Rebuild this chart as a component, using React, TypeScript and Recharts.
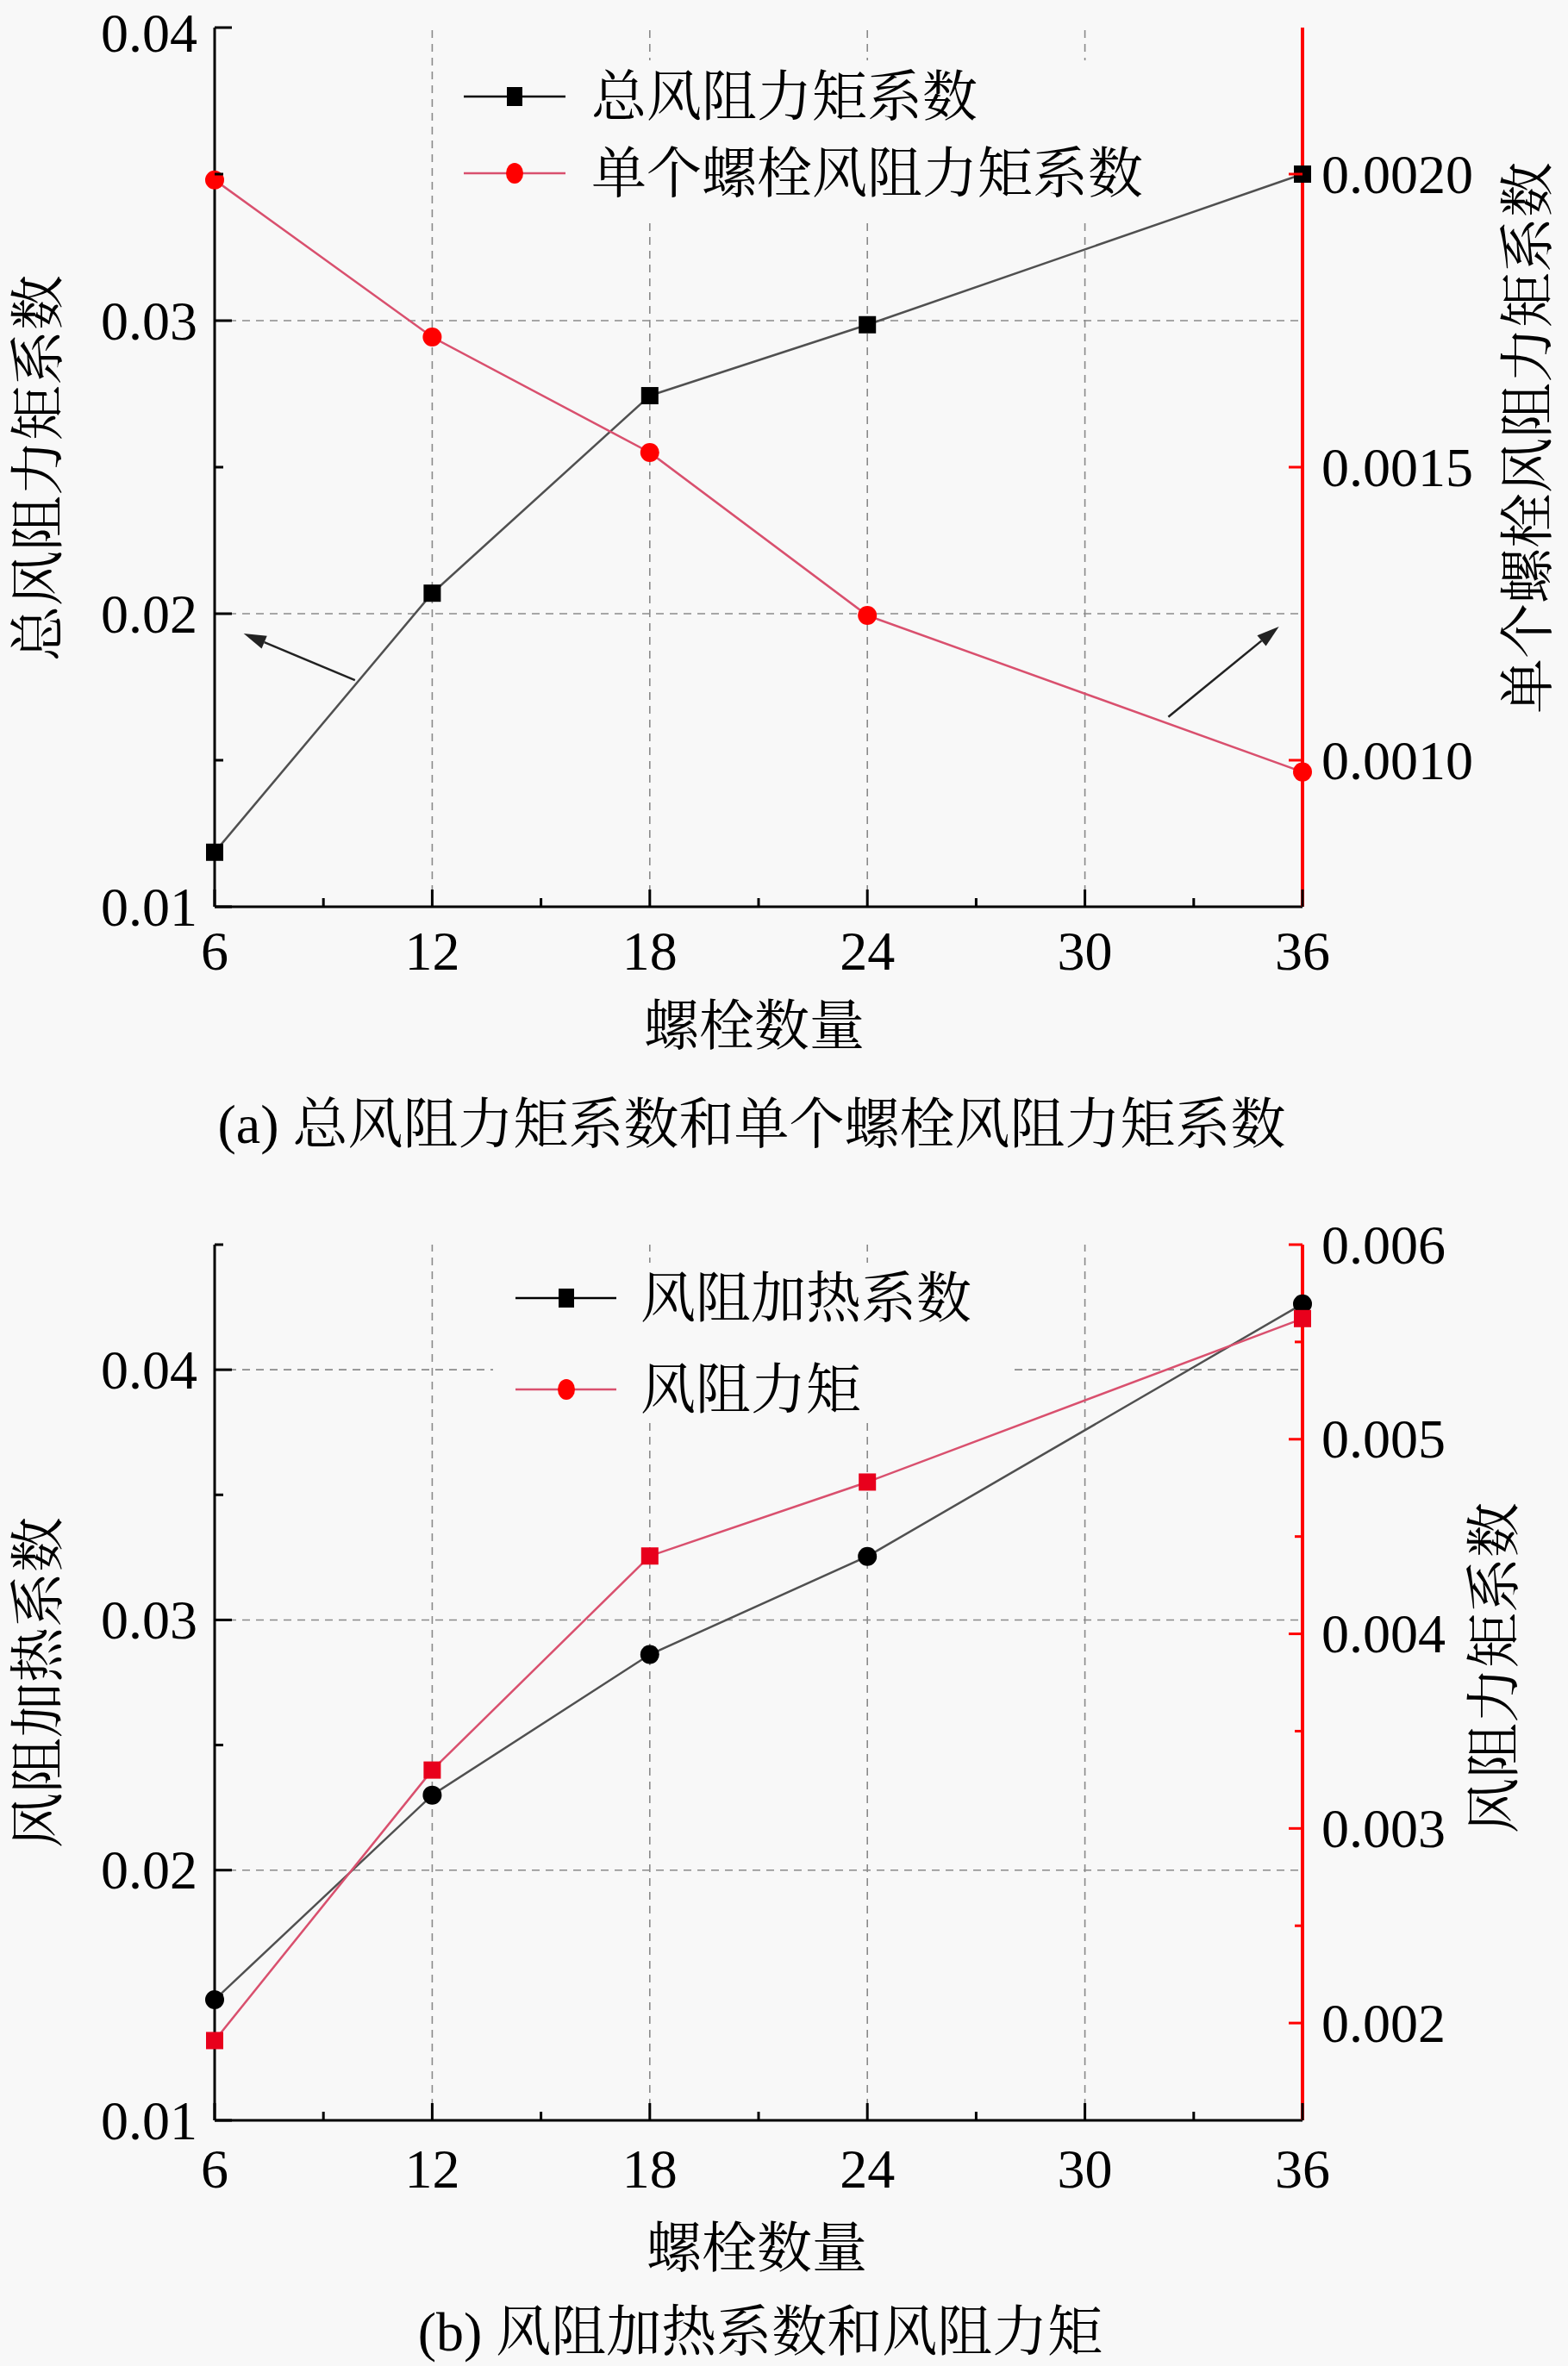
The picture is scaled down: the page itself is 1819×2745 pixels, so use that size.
import { LineChart, Line, XAxis, YAxis, ReferenceLine } from 'recharts'

// bolt counts on the x axis
const boltCounts = [6, 12, 18, 24, 36]

// (a) total / single bolt wind resistance moment coefficient
const totalMoment = [0.01186, 0.0207, 0.02744, 0.02986, 0.035]
const singleBoltMoment = [0.00199, 0.001722, 0.001525, 0.001247, 0.00098]

// (b) wind heating coefficient / wind resistance moment
const heatingCoef = [0.01482, 0.023, 0.02862, 0.03254, 0.04263]
const dragMoment = [0.00191, 0.0033, 0.0044, 0.00478, 0.00562]

// ticks
const xTicks = [6, 9, 12, 15, 18, 21, 24, 27, 30, 33, 36]
const xLabels = ['6', '', '12', '', '18', '', '24', '', '30', '', '36']
const xGrid = [12, 18, 24, 30]

const aLeftTicks = [0.01, 0.015, 0.02, 0.025, 0.03, 0.035, 0.04]
const aLeftLabels = ['0.01', '', '0.02', '', '0.03', '', '0.04']
const aRightTicks = [0.001, 0.0015, 0.002]
const aRightLabels = ['0.0010', '0.0015', '0.0020']
const aGrid = [0.02, 0.03]

const bLeftTicks = [0.01, 0.015, 0.02, 0.025, 0.03, 0.035, 0.04, 0.045]
const bLeftLabels = ['0.01', '', '0.02', '', '0.03', '', '0.04', '']
const bRightTicks = [0.002, 0.0025, 0.003, 0.0035, 0.004, 0.0045, 0.005, 0.0055, 0.006]
const bRightLabels = ['0.002', '', '0.003', '', '0.004', '', '0.005', '', '0.006']
const bGrid = [0.02, 0.03, 0.04]

const aData = boltCounts.map((n, i) => ({ n, total: totalMoment[i], single: singleBoltMoment[i] }))
const bData = boltCounts.map((n, i) => ({ n, heat: heatingCoef[i], moment: dragMoment[i] }))

const FONT = "'Liberation Serif', 'Times New Roman', 'Noto Serif CJK SC', 'Noto Sans CJK SC', serif"
const FS = 64
const BG = '#f8f8f8'
const RED = '#ff0000'
const LINE_RED = '#d9506e'
const LINE_BLACK = '#505050'
const W = 1819

const XTickBottom = (labels, offset) => (props) => {
  const { x, y, index } = props
  const label = labels[index]
  const len = label ? 20 : 10
  return (
    <g>
      <line x1={x} y1={y} x2={x} y2={y - len} stroke="#000" strokeWidth={3} />
      {label && (
        <text x={x} y={y + offset} textAnchor="middle" dominantBaseline="central" fontFamily={FONT} fontSize={FS} fill="#000">
          {label}
        </text>
      )}
    </g>
  )
}

const XTickTop = (labels) => (props) => {
  const { x, y, index } = props
  const len = labels[index] ? 20 : 10
  return <line x1={x} y1={y} x2={x} y2={y + len} stroke="#000" strokeWidth={3} />
}

const YTickLeft = (labels, topValue) => (props) => {
  const { x, y, index, payload } = props
  const label = labels[index]
  const len = label ? 20 : 10
  // keep the top label inside the page
  const ty = payload && payload.value === topValue ? y + 6 : y
  return (
    <g>
      <line x1={x} y1={y} x2={x + len} y2={y} stroke="#000" strokeWidth={3} />
      {label && (
        <text x={x - 20} y={ty} textAnchor="end" dominantBaseline="central" fontFamily={FONT} fontSize={FS} fill="#000">
          {label}
        </text>
      )}
    </g>
  )
}

const YTickRight = (labels) => (props) => {
  const { x, y, index } = props
  const label = labels[index]
  const len = label ? 16 : 9
  return (
    <g>
      <line x1={x} y1={y} x2={x - len} y2={y} stroke={RED} strokeWidth={3} />
      {label && (
        <text x={x + 22} y={y} textAnchor="start" dominantBaseline="central" fontFamily={FONT} fontSize={FS} fill="#000">
          {label}
        </text>
      )}
    </g>
  )
}

const squareDot = (fill, size) => (props) => {
  const { cx, cy, index } = props
  return <rect key={`s${index}`} x={cx - size / 2} y={cy - size / 2} width={size} height={size} fill={fill} />
}

const circleDot = (fill, r) => (props) => {
  const { cx, cy, index } = props
  return <circle key={`c${index}`} cx={cx} cy={cy} r={r} fill={fill} />
}

const arrowShape = (props) => {
  const { x1, y1, x2, y2 } = props
  const ang = Math.atan2(y2 - y1, x2 - x1)
  const L = 26
  const Wd = 8
  const bx = x2 - L * Math.cos(ang)
  const by = y2 - L * Math.sin(ang)
  const px = -Math.sin(ang) * Wd
  const py = Math.cos(ang) * Wd
  return (
    <g>
      <line x1={x1} y1={y1} x2={bx} y2={by} stroke="#222" strokeWidth={2.5} />
      <polygon points={`${x2},${y2} ${bx + px},${by + py} ${bx - px},${by - py}`} fill="#222" />
    </g>
  )
}

const gridStyle = { stroke: '#8a8a8a', strokeWidth: 1.6, strokeDasharray: '9 7' }

function LegendBox({ box, items, lineX, markX, textX }) {
  return (
    <g>
      <rect x={box[0]} y={box[1]} width={box[2]} height={box[3]} fill={BG} />
      {items.map((it) => (
        <g key={it.name}>
          <line x1={lineX[0]} y1={it.y} x2={lineX[1]} y2={it.y} stroke={it.line} strokeWidth={2.5} />
          {it.marker === 'square' ? (
            <rect x={markX - 9} y={it.y - 11} width={18} height={22} fill={it.fill} />
          ) : (
            <ellipse cx={markX} cy={it.y} rx={10} ry={12} fill={it.fill} />
          )}
          <text x={textX} y={it.y} dominantBaseline="central" fontFamily={FONT} fontSize={FS} fill="#000">
            {it.name}
          </text>
        </g>
      ))}
    </g>
  )
}

function VTitle({ x, y, text }) {
  return (
    <text x={x} y={y} transform={`rotate(-90 ${x} ${y})`} textAnchor="middle" dominantBaseline="central" fontFamily={FONT} fontSize={FS} fill="#000">
      {text}
    </text>
  )
}

function ChartA() {
  const H = 1380
  return (
    <div style={{ position: 'relative', width: W, height: H }}>
      <LineChart width={W} height={H} data={aData} margin={{ top: 32, right: 0, left: 0, bottom: 0 }}>
        {xGrid.map((v) => (
          <ReferenceLine key={`vx${v}`} x={v} yAxisId="l" {...gridStyle} />
        ))}
        {aGrid.map((v) => (
          <ReferenceLine key={`hy${v}`} y={v} yAxisId="l" {...gridStyle} />
        ))}
        <XAxis dataKey="n" type="number" domain={[6, 36]} ticks={xTicks} interval={0} height={328} tickSize={0} tickMargin={0} tickLine={false} axisLine={{ stroke: '#000', strokeWidth: 3 }} tick={XTickBottom(xLabels, 51)} />
        <XAxis xAxisId="top" orientation="top" dataKey="n" type="number" domain={[6, 36]} ticks={xTicks} interval={0} height={0} tickSize={0} tickMargin={0} tickLine={false} axisLine={{ stroke: '#000', strokeWidth: 3 }} tick={XTickTop(xLabels)} />
        <YAxis yAxisId="l" type="number" domain={[0.01, 0.04]} ticks={aLeftTicks} interval={0} width={249} tickSize={0} tickMargin={0} tickLine={false} axisLine={{ stroke: '#000', strokeWidth: 3 }} tick={YTickLeft(aLeftLabels, 0.04)} />
        <YAxis yAxisId="r" orientation="right" type="number" domain={[0.00075, 0.00225]} ticks={aRightTicks} interval={0} width={308} tickSize={0} tickMargin={0} tickLine={false} axisLine={{ stroke: RED, strokeWidth: 4 }} tick={YTickRight(aRightLabels)} />
        <ReferenceLine yAxisId="l" segment={[{ x: 9.87, y: 0.01773 }, { x: 6.8, y: 0.01932 }]} shape={arrowShape} />
        <ReferenceLine yAxisId="r" segment={[{ x: 32.3, y: 0.001074 }, { x: 35.35, y: 0.001228 }]} shape={arrowShape} />
        <Line yAxisId="l" dataKey="total" type="linear" stroke={LINE_BLACK} strokeWidth={2.5} dot={squareDot('#000', 20)} isAnimationActive={false} />
        <Line yAxisId="r" dataKey="single" type="linear" stroke={LINE_RED} strokeWidth={2.5} dot={circleDot(RED, 11)} isAnimationActive={false} />
      </LineChart>
      <svg width={W} height={H} style={{ position: 'absolute', left: 0, top: 0, pointerEvents: 'none' }}>
        <LegendBox
          box={[530, 70, 830, 183]}
          lineX={[538, 656]}
          markX={597}
          textX={686}
          items={[
            { name: '总风阻力矩系数', y: 112, line: '#000', fill: '#000', marker: 'square' },
            { name: '单个螺栓风阻力矩系数', y: 201, line: LINE_RED, fill: RED, marker: 'circle' },
          ]}
        />
        <text x={875} y={1190} textAnchor="middle" dominantBaseline="central" fontFamily={FONT} fontSize={FS}>螺栓数量</text>
        <VTitle x={44} y={543} text="总风阻力矩系数" />
        <VTitle x={1772} y={508} text="单个螺栓风阻力矩系数" />
        <text x={872} y={1304} textAnchor="middle" dominantBaseline="central" fontFamily={FONT} fontSize={FS}>(a) 总风阻力矩系数和单个螺栓风阻力矩系数</text>
      </svg>
    </div>
  )
}

function ChartB() {
  const H = 1365
  return (
    <div style={{ position: 'relative', width: W, height: H }}>
      <LineChart width={W} height={H} data={bData} margin={{ top: 64, right: 0, left: 0, bottom: 0 }}>
        {xGrid.map((v) => (
          <ReferenceLine key={`vx${v}`} x={v} yAxisId="l" {...gridStyle} />
        ))}
        {bGrid.map((v) => (
          <ReferenceLine key={`hy${v}`} y={v} yAxisId="l" {...gridStyle} />
        ))}
        <XAxis dataKey="n" type="number" domain={[6, 36]} ticks={xTicks} interval={0} height={285} tickSize={0} tickMargin={0} tickLine={false} axisLine={{ stroke: '#000', strokeWidth: 3 }} tick={XTickBottom(xLabels, 56)} />
        <XAxis xAxisId="top" orientation="top" dataKey="n" type="number" domain={[6, 36]} ticks={xTicks} interval={0} height={0} tickSize={0} tickMargin={0} tickLine={false} axisLine={{ stroke: '#000', strokeWidth: 3 }} tick={XTickTop(xLabels)} />
        <YAxis yAxisId="l" type="number" domain={[0.01, 0.045]} ticks={bLeftTicks} interval={0} width={249} tickSize={0} tickMargin={0} tickLine={false} axisLine={{ stroke: '#000', strokeWidth: 3 }} tick={YTickLeft(bLeftLabels, 1)} />
        <YAxis yAxisId="r" orientation="right" type="number" domain={[0.0015, 0.006]} ticks={bRightTicks} interval={0} width={308} tickSize={0} tickMargin={0} tickLine={false} axisLine={{ stroke: RED, strokeWidth: 4 }} tick={YTickRight(bRightLabels)} />
        <Line yAxisId="l" dataKey="heat" type="linear" stroke={LINE_BLACK} strokeWidth={2.5} dot={circleDot('#000', 11)} isAnimationActive={false} />
        <Line yAxisId="r" dataKey="moment" type="linear" stroke={LINE_RED} strokeWidth={2.5} dot={squareDot('#e8001c', 20)} isAnimationActive={false} />
      </LineChart>
      <svg width={W} height={H} style={{ position: 'absolute', left: 0, top: 0, pointerEvents: 'none' }}>
        <LegendBox
          box={[572, 85, 602, 182]}
          lineX={[598, 715]}
          markX={657}
          textX={743}
          items={[
            { name: '风阻加热系数', y: 126, line: '#000', fill: '#000', marker: 'square' },
            { name: '风阻力矩', y: 232, line: LINE_RED, fill: RED, marker: 'circle' },
          ]}
        />
        <text x={878} y={1228} textAnchor="middle" dominantBaseline="central" fontFamily={FONT} fontSize={FS}>螺栓数量</text>
        <VTitle x={44} y={572} text="风阻加热系数" />
        <VTitle x={1733} y={555} text="风阻力矩系数" />
        <text x={882} y={1325} textAnchor="middle" dominantBaseline="central" fontFamily={FONT} fontSize={FS}>(b) 风阻加热系数和风阻力矩</text>
      </svg>
    </div>
  )
}

export default function App() {
  return (
    <div style={{ position: 'absolute', left: 0, top: 0, width: W, height: 2745, background: BG, overflow: 'hidden' }}>
      <ChartA />
      <ChartB />
    </div>
  )
}
